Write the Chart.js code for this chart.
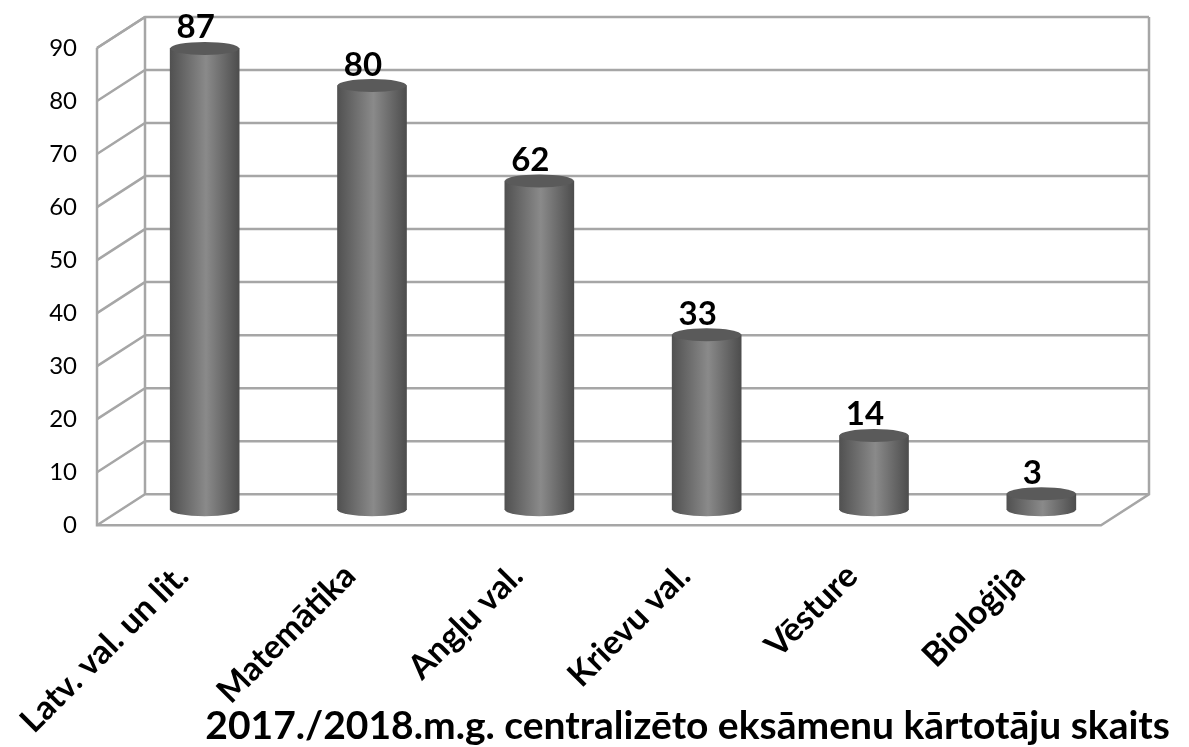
<!DOCTYPE html>
<html>
<head>
<meta charset="utf-8">
<style>
  body { margin: 0; background: #fff; }
</style>
<script src="https://cdn.jsdelivr.net/npm/chart.js@4/dist/chart.umd.min.js"></script>
</head>
<body>
<canvas id="my-chart" width="1189" height="747"></canvas>
<script>
var categories = ['Latv. val. un lit.', 'Matemātika', 'Angļu val.', 'Krievu val.', 'Vēsture', 'Bioloģija'];
var counts = [87, 80, 62, 33, 14, 3];
var chartTitle = '2017./2018.m.g. centralizēto eksāmenu kārtotāju skaits';

var FONT = 'Lato, Carlito, sans-serif';
var GRID = '#a6a6a6';
var DX = 24, DY = 15.5;      // half of the 3d depth
var BAR_W = 69, RY = 6.5;

function barGradient(c, x) {
    var g = c.createLinearGradient(x - BAR_W / 2, 0, x + BAR_W / 2, 0);
    g.addColorStop(0, '#515151');
    g.addColorStop(0.52, '#8a8a8a');
    g.addColorStop(1, '#4d4d4d');
    return g;
}

// walls, cylinder caps and value labels
var box3d = {
    id: 'box3d',
    afterLayout: function (chart) {
        // long rotated labels run down beside the title, stop them being clipped
        chart.scales.x.bottom = chart.height;
    },
    beforeDatasetsDraw: function (chart) {
        var c = chart.ctx, yS = chart.scales.y, xS = chart.scales.x;
        var fl = xS.left - DX, fr = xS.right - DX;
        var bl = xS.left + DX, br = xS.right + DX;
        var off = DY * 2;
        c.save();
        c.strokeStyle = GRID;
        c.lineWidth = 2.5;
        yS.ticks.forEach(function (t) {
            var y = yS.getPixelForValue(t.value);
            c.beginPath();
            c.moveTo(fl, y);
            c.lineTo(bl, y - off);
            c.lineTo(br, y - off);
            c.stroke();
        });
        var y0 = yS.getPixelForValue(0), yTop = yS.getPixelForValue(90);
        c.beginPath();
        c.moveTo(fl, yTop);
        c.lineTo(fl, y0);
        c.lineTo(fr, y0);
        c.lineTo(br, y0 - off);
        c.lineTo(br, yTop - off);
        c.moveTo(bl, yTop - off);
        c.lineTo(bl, y0 - off);
        c.moveTo(fl, yTop);
        c.lineTo(bl, yTop - off);
        c.stroke();
        // bottoms of the cylinders
        chart.getDatasetMeta(0).data.forEach(function (bar) {
            c.fillStyle = barGradient(c, bar.x);
            c.beginPath();
            c.ellipse(bar.x, bar.base, BAR_W / 2, RY, 0, 0, Math.PI * 2);
            c.fill();
        });
        c.restore();
    },
    afterDatasetsDraw: function (chart) {
        var c = chart.ctx;
        c.save();
        chart.getDatasetMeta(0).data.forEach(function (bar, i) {
            c.fillStyle = '#5a5a5a';
            c.beginPath();
            c.ellipse(bar.x, bar.y, BAR_W / 2, RY, 0, 0, Math.PI * 2);
            c.fill();
            c.fillStyle = '#000';
            c.font = 'bold 33px ' + FONT;
            c.textAlign = 'center';
            c.textBaseline = 'alphabetic';
            c.fillText(counts[i], bar.x - 9, bar.y - 10);
        });
        c.restore();
    }
};

var ctx = document.getElementById('my-chart').getContext('2d');

var myChart = new Chart(ctx, {
    type: 'bar',
    data: {
        labels: categories,
        datasets: [{
            data: counts,
            yAxisID: 'yBar',
            barThickness: BAR_W,
            borderWidth: 0,
            backgroundColor: function (context) {
                var x = context.chart.scales.x.getPixelForValue(context.dataIndex);
                if (!isFinite(x)) {
                    return '#6c6c6c';
                }
                return barGradient(context.chart.ctx, x);
            }
        }]
    },
    plugins: [box3d],
    options: {
        responsive: false,
        animation: false,
        layout: { padding: { top: 17, right: 19, left: 0, bottom: 0 } },
        plugins: {
            legend: { display: false },
            tooltip: { enabled: false },
            title: {
                display: true,
                text: chartTitle,
                position: 'bottom',
                align: 'end',
                color: '#000',
                font: { family: FONT, size: 39, weight: 'bold' },
                padding: { top: 0, bottom: -3 }
            }
        },
        scales: {
            x: {
                grid: { display: false, drawTicks: false },
                border: { display: false },
                afterFit: function (scale) { scale.height = 178; },
                ticks: {
                    autoSkip: false,
                    minRotation: 45,
                    maxRotation: 45,
                    padding: 31,
                    labelOffset: -22,
                    color: '#000',
                    font: { family: FONT, size: 33.5, weight: 'bold' }
                }
            },
            y: {
                position: 'left',
                min: 0,
                max: 95.85,
                grid: { display: false, drawTicks: false },
                border: { display: false },
                afterFit: function (scale) {
                    scale.width = 121;
                    scale.paddingTop = 0;
                    scale.paddingBottom = 0;
                },
                ticks: {
                    stepSize: 10,
                    includeBounds: false,
                    padding: 44,
                    color: '#000',
                    font: { family: FONT, size: 24 }
                }
            },
            yBar: {
                position: 'right',
                min: -2.92,
                max: 92.92,
                grid: { display: false, drawTicks: false },
                border: { display: false },
                ticks: { display: false },
                afterFit: function (scale) { scale.width = 45; }
            }
        }
    }
});
</script>
</body>
</html>
